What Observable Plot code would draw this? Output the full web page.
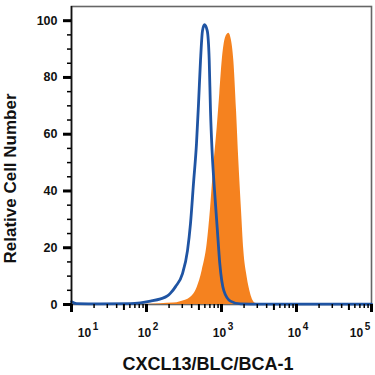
<!DOCTYPE html>
<html>
<head>
<meta charset="utf-8">
<script src="https://cdn.jsdelivr.net/npm/d3@7"></script>
<script src="https://cdn.jsdelivr.net/npm/@observablehq/plot@0.6"></script>
</head>
<body style="margin:0">
<div id="chart"></div>
<script>
// Blue open histogram (control)
const blueX = [10, 11.7, 24, 61, 83, 113, 154, 190, 209, 244, 302, 352, 386, 423, 464, 494, 525, 558, 593, 645, 686, 713, 752, 807, 876, 949, 1074, 1318, 1792, 3311, 11310, 100000];
const blueY = [1.0, 0.3, 0.2, 0.3, 0.6, 1.2, 2.0, 3.0, 4.0, 6.3, 10.9, 19, 28.5, 42.6, 56.7, 70.8, 86, 96.5, 98.6, 96.5, 86, 68.4, 53.2, 40.2, 27.1, 14.4, 4.9, 1.2, 0.2, 0.1, 0.1, 0.1];
// Orange filled histogram (stained)
const orangeX = [83, 154, 229, 284, 386, 474, 553, 645, 713, 782, 876, 949, 1022, 1107, 1213, 1251, 1359, 1459, 1585, 1701, 1848, 1984, 2201, 2437, 2840, 3311];
const orangeY = [0, 0.3, 0.5, 1.0, 2.5, 6.0, 12.0, 21.5, 33.5, 47.5, 62.3, 74.3, 85.9, 93, 95.4, 95.6, 93, 86, 68.4, 50.7, 33.1, 19, 9.5, 3.9, 0.4, 0];

const majorX = [10, 100, 1000, 10000, 100000];
const exponents = ["1", "2", "3", "4", "5"];
const yTicks = [0, 20, 40, 60, 80, 100];
const xTitle = "CXCL13/BLC/BCA-1";
const yTitle = "Relative Cell Number";

const blue = blueX.map((x, i) => ({x, y: blueY[i]}));
const orange = orangeX.map((x, i) => ({x, y: orangeY[i]}));
const labels = majorX.map((x, i) => ({x, e: exponents[i]}));

const minorX = [];
for (let k = 1; k < 5; k++) for (let m = 2; m <= 9; m++) if (m !== 5) minorX.push(m * 10 ** k);
const midX = [1, 2, 3, 4].map(k => 5 * 10 ** k);
const minorY = d3.range(0, 105, 5).filter(v => v % 20 !== 0);

const FONT = "Liberation Sans, Arial, sans-serif";

function decadeLabels(data, shift) {
  return [
    Plot.text(data, {x: "x", y: () => 0, text: () => "10", dx: shift, dy: 29, fontSize: 12, fontWeight: "bold", fontFamily: FONT, fill: "#111"}),
    Plot.text(data, {x: "x", y: () => 0, text: "e", dx: shift + 11, dy: 22, fontSize: 10, fontWeight: "bold", fontFamily: FONT, fill: "#111"})
  ];
}

const chart = Plot.plot({
  width: 375,
  height: 375,
  marginLeft: 71,
  marginRight: 4,
  marginTop: 6,
  marginBottom: 71,
  x: {type: "log", domain: [10, 100000], axis: null},
  y: {domain: [0, 105], axis: null},
  marks: [
    Plot.frame({stroke: "#666", strokeWidth: 1.6}),
    Plot.areaY(orange, {x: "x", y: "y", fill: "#f5821f", curve: "monotone-x"}),
    Plot.lineY(blue, {x: "x", y: "y", stroke: "#1f54a3", strokeWidth: 2.8, curve: "monotone-x"}),
    Plot.ruleX([10], {stroke: "#111", strokeWidth: 1.6}),
    Plot.axisY({ticks: yTicks, tickSize: 8, stroke: "black", strokeWidth: 3, tickFormat: () => "", label: null}),
    Plot.axisY({ticks: minorY, tickSize: 4, stroke: "black", strokeWidth: 1.5, tickFormat: () => "", label: null}),
    Plot.axisX({ticks: majorX, tickSize: 8, stroke: "black", strokeWidth: 3, tickFormat: () => "", label: null}),
    Plot.axisX({ticks: midX, tickSize: 6, stroke: "black", strokeWidth: 2, tickFormat: () => "", label: null}),
    Plot.axisX({ticks: minorX, tickSize: 4, stroke: "black", strokeWidth: 1.5, tickFormat: () => "", label: null}),
    Plot.text(yTicks, {y: d => d, text: d => String(d), frameAnchor: "left", textAnchor: "end", dx: -14, fontSize: 12.5, fontWeight: "bold", fontFamily: FONT, fill: "#111"}),
    ...decadeLabels(labels.slice(0, 1), 13),
    ...decadeLabels(labels.slice(1, 4), -2),
    ...decadeLabels(labels.slice(4), -15),
    Plot.text([xTitle], {frameAnchor: "bottom", text: d => d, textAnchor: "middle", lineAnchor: "middle", dx: -13.5, dy: 60, fontSize: 18, fontWeight: "bold", fontFamily: FONT, fill: "#111"}),
    Plot.text([yTitle], {frameAnchor: "left", text: d => d, textAnchor: "middle", lineAnchor: "middle", dx: -61, dy: 23, rotate: -90, fontSize: 17, fontWeight: "bold", fontFamily: FONT, fill: "#111"})
  ]
});
document.getElementById("chart").appendChild(chart);
</script>
</body>
</html>
